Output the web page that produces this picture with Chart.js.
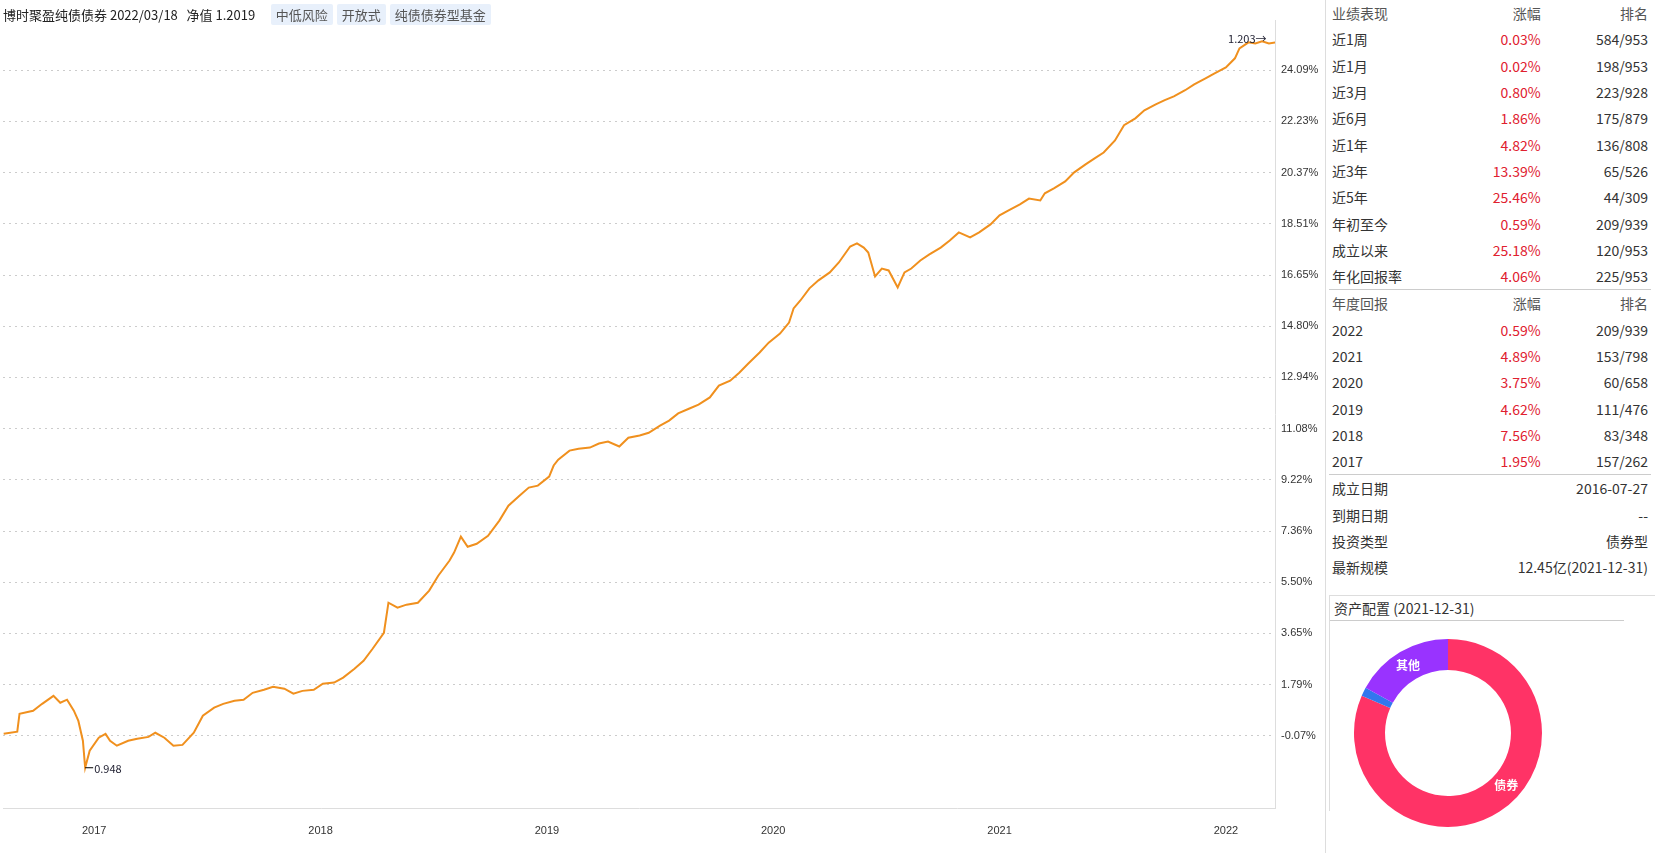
<!DOCTYPE html>
<html><head><meta charset="utf-8">
<script src="https://cdn.jsdelivr.net/npm/chart.js@4/dist/chart.umd.min.js"></script>
<style>
body{margin:0;width:1655px;height:853px;overflow:hidden;background:#fff;font-family:"Microsoft YaHei","Noto Sans CJK SC",sans-serif;color:#333}
#main{position:absolute;left:0;top:0;width:1325px;height:846px}
#title{position:absolute;left:3px;top:4px;font-size:13px;color:#222;white-space:nowrap}
.tag{display:inline-block;background:#e8f0fb;color:#555;padding:1px 5px;margin-left:4px;font-size:13px;border-radius:2px}
#panel{position:absolute;left:1325px;top:0;width:330px;height:853px;border-left:1px solid #ddd}
table{border-collapse:collapse;width:322px;font-size:14px;margin-left:3px}
td{height:26.3px;padding:0 3px;white-space:nowrap}
td.r{text-align:right}.red{color:#e0202f}
tr.h td{color:#555}
tr.sep td{border-top:1px solid #ccc}
#donutBox{position:absolute;left:3px;top:595px;width:325px;height:215px;border:1px solid #ddd;border-bottom:none}
#donutBox .hd{font-size:14px;padding:4px 4px;border-bottom:1px solid #ccc;height:16px;line-height:16px;width:286px}
</style></head><body>
<div id="main"><canvas id="c"></canvas></div>
<div id="title">博时聚盈纯债债券 2022/03/18 &nbsp;&nbsp;净值 1.2019 &nbsp;&nbsp;&nbsp;<span class="tag">中低风险</span><span class="tag">开放式</span><span class="tag">纯债债券型基金</span></div>
<div id="panel">
<table id="tbl"></table>
<div id="donutBox"><div class="hd">资产配置 (2021-12-31)</div><div style="position:relative;width:200px;height:196px;left:18px;top:14px"><canvas id="d"></canvas></div></div>
</div>
<script>
const years=[2016.60,2016.66,2016.67,2016.73,2016.77,2016.82,2016.85,2016.88,2016.91,2016.93,2016.95,2016.96,2016.98,2017.02,2017.05,2017.07,2017.10,2017.15,2017.19,2017.24,2017.27,2017.31,2017.35,2017.39,2017.44,2017.48,2017.53,2017.57,2017.62,2017.66,2017.70,2017.75,2017.79,2017.84,2017.88,2017.92,2017.97,2018.01,2018.06,2018.10,2018.15,2018.19,2018.23,2018.28,2018.30,2018.34,2018.38,2018.43,2018.48,2018.52,2018.57,2018.59,2018.62,2018.65,2018.69,2018.74,2018.79,2018.83,2018.88,2018.92,2018.96,2019.01,2019.03,2019.05,2019.10,2019.14,2019.19,2019.23,2019.27,2019.32,2019.36,2019.41,2019.45,2019.50,2019.54,2019.58,2019.63,2019.67,2019.72,2019.76,2019.81,2019.85,2019.89,2019.94,2019.98,2020.03,2020.07,2020.09,2020.12,2020.16,2020.20,2020.25,2020.29,2020.34,2020.37,2020.40,2020.42,2020.45,2020.48,2020.51,2020.55,2020.58,2020.61,2020.65,2020.69,2020.74,2020.78,2020.82,2020.87,2020.91,2020.96,2021.00,2021.04,2021.09,2021.13,2021.18,2021.20,2021.24,2021.29,2021.33,2021.38,2021.42,2021.46,2021.51,2021.55,2021.60,2021.64,2021.69,2021.73,2021.77,2021.82,2021.86,2021.91,2021.95,2022.00,2022.04,2022.06,2022.10,2022.13,2022.16,2022.19,2022.22];
const returns=[0.00,0.08,0.73,0.84,1.09,1.38,1.13,1.24,0.84,0.47,-0.25,-1.23,-0.61,-0.14,0.00,-0.25,-0.43,-0.25,-0.18,-0.11,0.04,-0.14,-0.43,-0.40,0.04,0.66,0.95,1.09,1.20,1.24,1.49,1.60,1.71,1.64,1.46,1.56,1.60,1.82,1.86,2.04,2.36,2.65,3.09,3.67,4.76,4.58,4.69,4.76,5.20,5.74,6.29,6.58,7.16,6.79,6.90,7.19,7.74,8.28,8.65,8.94,9.01,9.34,9.74,9.95,10.28,10.35,10.39,10.54,10.61,10.43,10.75,10.83,10.93,11.19,11.37,11.63,11.81,11.95,12.21,12.64,12.82,13.11,13.44,13.84,14.20,14.53,14.93,15.44,15.73,16.17,16.46,16.75,17.11,17.69,17.80,17.65,17.47,16.60,16.89,16.82,16.20,16.75,16.89,17.18,17.40,17.65,17.91,18.20,18.02,18.20,18.49,18.82,19.00,19.22,19.43,19.36,19.62,19.80,20.05,20.38,20.67,20.89,21.10,21.54,22.09,22.34,22.63,22.85,23.00,23.14,23.36,23.57,23.79,23.97,24.19,24.52,24.88,25.10,25.06,25.14,25.06,25.10];
const yTicks=[-0.07,1.79,3.65,5.50,7.36,9.22,11.08,12.94,14.80,16.65,18.51,20.37,22.23,24.09];
const xTicks=[2017,2018,2019,2020,2021,2022];
const minLabel="0.948", maxLabel="1.203";
const perfRows=[["近1周","0.03%","584/953"],["近1月","0.02%","198/953"],["近3月","0.80%","223/928"],["近6月","1.86%","175/879"],["近1年","4.82%","136/808"],["近3年","13.39%","65/526"],["近5年","25.46%","44/309"],["年初至今","0.59%","209/939"],["成立以来","25.18%","120/953"],["年化回报率","4.06%","225/953"]];
const yearRows=[["2022","0.59%","209/939"],["2021","4.89%","153/798"],["2020","3.75%","60/658"],["2019","4.62%","111/476"],["2018","7.56%","83/348"],["2017","1.95%","157/262"]];
const infoRows=[["成立日期","2016-07-27"],["到期日期","--"],["投资类型","债券型"],["最新规模","12.45亿(2021-12-31)"]];
const assetLabels=["债券","现金","其他"];
const assetValues=[81.5,1.5,17];

let h='<tr class="h"><td>业绩表现</td><td class="r">涨幅</td><td class="r">排名</td></tr>';
perfRows.forEach(r=>h+=`<tr><td>${r[0]}</td><td class="r red">${r[1]}</td><td class="r">${r[2]}</td></tr>`);
h+='<tr class="h sep"><td>年度回报</td><td class="r">涨幅</td><td class="r">排名</td></tr>';
yearRows.forEach(r=>h+=`<tr><td>${r[0]}</td><td class="r red">${r[1]}</td><td class="r">${r[2]}</td></tr>`);
infoRows.forEach((r,i)=>h+=`<tr${i==0?' class="sep"':''}><td>${r[0]}</td><td colspan="2" class="r">${r[1]}</td></tr>`);
document.getElementById('tbl').innerHTML=h;

const pts=years.map((x,i)=>({x,y:returns[i]}));
let iMin=0,iMax=0;returns.forEach((v,i)=>{if(v<returns[iMin])iMin=i;if(v>returns[iMax])iMax=i;});
const labelPlugin={id:'lbl',afterDatasetsDraw(ch){const c=ch.ctx,xs=ch.scales.x,ys=ch.scales.y;c.save();c.font='11px "Microsoft YaHei","Noto Sans CJK SC",sans-serif';c.fillStyle='#223';c.strokeStyle='#000';c.lineWidth=1;
let px=xs.getPixelForValue(years[iMin]),py=ys.getPixelForValue(returns[iMin]);
c.beginPath();c.moveTo(px,py);c.lineTo(px+8,py);c.stroke();c.textBaseline='middle';c.fillText(minLabel,px+9,py+1);
px=xs.getPixelForValue(years[iMax-2]);py=ys.getPixelForValue(returns[iMax]);
c.textAlign='right';c.fillText(maxLabel+'→',px+18,py-2);c.restore();}};
new Chart(document.getElementById('c'),{type:'line',data:{datasets:[{data:pts,borderColor:'#f0901e',borderWidth:2,pointRadius:0,tension:0}]},
options:{responsive:true,maintainAspectRatio:false,animation:false,layout:{padding:{left:3,top:20,right:0,bottom:0}},
plugins:{legend:{display:false},tooltip:{enabled:false}},
scales:{x:{type:'linear',min:2016.597,max:2022.217,afterBuildTicks:s=>{s.ticks=xTicks.map(v=>({value:v}))},ticks:{callback:v=>String(v),color:'#333',font:{size:11},maxRotation:0,padding:8},grid:{display:false},border:{color:'#ddd'}},
y:{position:'right',min:-2.72,max:25.91,afterBuildTicks:s=>{s.ticks=yTicks.map(v=>({value:v}))},afterFit:s=>{s.width=50},ticks:{callback:v=>v.toFixed(2)+'%',color:'#333',font:{size:11},padding:6},grid:{color:'#ccc',drawTicks:false},border:{display:true,color:'#ddd',dash:[2,4]}}}},
plugins:[labelPlugin]});

new Chart(document.getElementById('d'),{type:'doughnut',data:{labels:assetLabels,datasets:[{data:assetValues,backgroundColor:['#ff3366','#3377ee','#9933ff'],borderWidth:0}]},
options:{responsive:true,maintainAspectRatio:false,animation:false,cutout:'67%',layout:{padding:4},plugins:{legend:{display:false},tooltip:{enabled:false}}},
plugins:[{id:'dl',afterDatasetsDraw(ch){const c=ch.ctx,m=ch.getDatasetMeta(0);c.save();c.fillStyle='#fff';c.font='bold 12px "Noto Sans CJK SC",sans-serif';c.textAlign='center';c.textBaseline='middle';
[[0,'债券',0.45],[2,'其他',0.5]].forEach(([i,t,f])=>{const a=m.data[i];const ang=a.startAngle+(a.endAngle-a.startAngle)*f;const r=(a.innerRadius+a.outerRadius)/2;c.fillText(t,a.x+Math.cos(ang)*r,a.y+Math.sin(ang)*r);});c.restore();}}]});
</script></body></html>
